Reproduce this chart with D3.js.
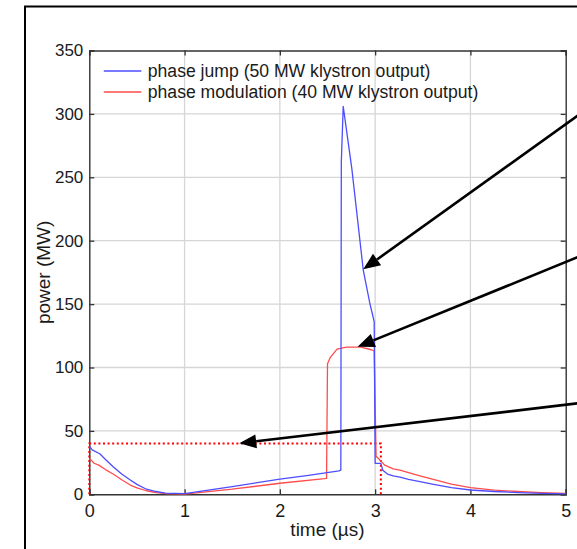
<!DOCTYPE html>
<html>
<head>
<meta charset="utf-8">
<script src="https://cdn.jsdelivr.net/npm/d3@7"></script>
<style>
  html, body { margin: 0; padding: 0; background: #fff; }
  svg { display: block; }
  text { font-family: "Liberation Sans", Arial, Helvetica, sans-serif; fill: #1a1a1a; }
</style>
</head>
<body>
<div id="chart"></div>
<script>
// ---- data ----
const xTicks = [0, 1, 2, 3, 4, 5];
const yTicks = [0, 50, 100, 150, 200, 250, 300, 350];
const seriesNames = ["phase jump (50 MW klystron output)", "phase modulation (40 MW klystron output)"];

// phase jump (blue)
const jumpT = [0, 0.03, 0.11, 0.17, 0.25, 0.34, 0.43, 0.5, 0.6, 0.7, 0.8, 1.0, 1.5, 2.0, 2.3, 2.62, 2.64, 2.645, 2.665, 2.755, 2.875, 2.946, 2.975, 2.99, 3.0, 3.06, 3.08, 3.13, 3.19, 3.26, 3.35, 3.47, 3.6, 3.8, 4.0, 4.25, 4.5, 4.75, 5.0];
const jumpP = [38, 35, 32, 27.5, 21.8, 16, 11.3, 7.8, 4, 2.2, 1, 0.5, 6, 12, 15, 18.5, 19, 262, 306, 257, 177, 150, 141, 136, 24.4, 24.4, 19, 16, 14.5, 13.5, 11.8, 10, 8.1, 5.3, 3.4, 2.2, 1.4, 0.8, 0.4];

// phase modulation (red)
const modT = [0, 0.02, 0.05, 0.1, 0.17, 0.25, 0.34, 0.43, 0.5, 0.6, 0.7, 0.8, 1.0, 1.5, 2.0, 2.47, 2.49, 2.5, 2.53, 2.6, 2.7, 2.85, 2.96, 2.99, 3.01, 3.05, 3.1, 3.19, 3.26, 3.35, 3.47, 3.6, 3.8, 4.0, 4.25, 4.5, 4.75, 5.0];
const modP = [28, 27, 24.5, 23, 19.5, 16, 11.5, 7.3, 5, 2.8, 1.3, 0.5, 0.2, 4, 8.7, 12.3, 12.5, 103, 108, 114.5, 116, 116, 114, 113, 30, 27, 23, 20, 19, 17, 14.5, 12, 8, 5.2, 3.3, 2.2, 1.4, 0.8];

// klystron drive pulse (red dotted)
const pulseT = [0, 0, 3.06, 3.06];
const pulseP = [0, 40, 40, 0];

// annotation arrows: tip and tail in data units
const arrowTipT = [2.875, 2.816, 1.574];
const arrowTipP = [177.4, 116.3, 40.2];
const arrowTailT = [5.2, 5.2, 5.2];
const arrowTailP = [302.6, 189.3, 72.4];

// ---- layout ----
const W = 577, H = 549;
const margin = { left: 89.3, top: 50.5, right: W - 565.7, bottom: H - 494.3 };
const iw = W - margin.left - margin.right;
const ih = H - margin.top - margin.bottom;

const svg = d3.select("#chart").append("svg").attr("width", W).attr("height", H);

// outer frame
svg.append("rect").attr("x", 25).attr("y", 6.5).attr("width", 700).attr("height", 700)
  .attr("fill", "none").attr("stroke", "#000").attr("stroke-width", 2);

const g = svg.append("g").attr("transform", `translate(${margin.left},${margin.top})`);

const x = d3.scaleLinear().domain([0, 5]).range([0, iw]);
const y = d3.scaleLinear().domain([0, 350]).range([ih, 0]);

// grid
g.append("g").selectAll("line").data(xTicks.slice(1, -1)).join("line")
  .attr("x1", d => x(d)).attr("x2", d => x(d)).attr("y1", 0).attr("y2", ih)
  .attr("stroke", "#d6d6d6").attr("stroke-width", 1.3);
g.append("g").selectAll("line").data(yTicks.slice(1, -1)).join("line")
  .attr("y1", d => y(d)).attr("y2", d => y(d)).attr("x1", 0).attr("x2", iw)
  .attr("stroke", "#d6d6d6").attr("stroke-width", 1.3);

// axes
const axisColor = "#333";
const xAxis = g.append("g").attr("transform", `translate(0,${ih})`)
  .call(d3.axisBottom(x).tickValues(xTicks).tickSize(-5).tickPadding(10).tickFormat(d3.format("d")));
const xAxisTop = g.append("g")
  .call(d3.axisTop(x).tickValues(xTicks).tickSize(-5).tickFormat(""));
const yAxis = g.append("g")
  .call(d3.axisLeft(y).tickValues(yTicks).tickSize(-5).tickPadding(6).tickFormat(d3.format("d")));
const yAxisR = g.append("g").attr("transform", `translate(${iw},0)`)
  .call(d3.axisRight(y).tickValues(yTicks).tickSize(-5).tickFormat(""));
[xAxis, xAxisTop, yAxis, yAxisR].forEach(a => {
  a.select(".domain").attr("stroke", axisColor).attr("stroke-width", 1.4);
  a.selectAll(".tick line").attr("stroke", axisColor).attr("stroke-width", 1.3);
  a.selectAll("text").attr("fill", "#1a1a1a")
    .attr("font-family", '"Liberation Sans", Arial, sans-serif');
});
xAxis.selectAll("text").attr("font-size", 18);
yAxis.selectAll("text").attr("font-size", 17);

// curves
const line = d3.line().x(d => x(d[0])).y(d => y(d[1]));
const pulse = d3.zip(pulseT, pulseP);
const mod = d3.zip(modT, modP);
const jump = d3.zip(jumpT, jumpP);

const blue = "#4d4dff", red = "#ff4d4d";

g.append("path").datum(pulse).attr("d", line)
  .attr("fill", "none").attr("stroke", "#ff0000").attr("stroke-width", 2)
  .attr("stroke-dasharray", "2,2.6");
g.append("path").datum(mod).attr("d", line)
  .attr("fill", "none").attr("stroke", red).attr("stroke-width", 1.3).attr("stroke-linejoin", "round");
g.append("path").datum(jump).attr("d", line)
  .attr("fill", "none").attr("stroke", blue).attr("stroke-width", 1.3).attr("stroke-linejoin", "round");

// legend
const legend = g.append("g");
const legColors = [blue, red];
seriesNames.forEach((name, i) => {
  const ly = 20.5 + i * 21;
  legend.append("line").attr("x1", 14.5).attr("x2", 52).attr("y1", ly).attr("y2", ly)
    .attr("stroke", legColors[i]).attr("stroke-width", 1.4);
  legend.append("text").attr("x", 58.5).attr("y", ly).attr("dy", "0.35em")
    .attr("font-size", 17.6).text(name);
});

// arrows (annotation)
const arrows = svg.append("g").attr("transform", `translate(${margin.left},${margin.top})`);
arrowTipT.forEach((t, i) => {
  const tx = x(t), ty = y(arrowTipP[i]);
  const sx = x(arrowTailT[i]), sy = y(arrowTailP[i]);
  const dx = sx - tx, dy = sy - ty, L = Math.hypot(dx, dy);
  const ux = dx / L, uy = dy / L;
  const hl = 17, hw = 7;
  const bx = tx + ux * hl, by = ty + uy * hl;
  arrows.append("line").attr("x1", sx).attr("y1", sy).attr("x2", bx).attr("y2", by)
    .attr("stroke", "#000").attr("stroke-width", 2.6);
  arrows.append("path")
    .attr("d", `M${tx},${ty}L${bx - uy * hw},${by + ux * hw}L${bx + uy * hw},${by - ux * hw}Z`)
    .attr("fill", "#000");
});

// axis labels
svg.append("text").attr("x", margin.left + iw / 2).attr("y", 536)
  .attr("text-anchor", "middle").attr("font-size", 19).text("time (\u00b5s)");
svg.append("text").attr("transform", `translate(50,${margin.top + ih / 2}) rotate(-90)`)
  .attr("text-anchor", "middle").attr("font-size", 19).text("power (MW)");
</script>
</body>
</html>
